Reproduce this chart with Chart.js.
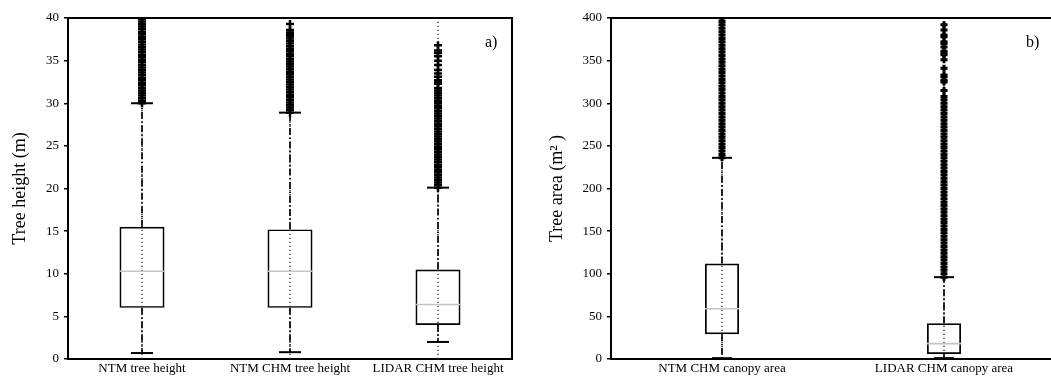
<!DOCTYPE html>
<html><head><meta charset="utf-8">
<script src="https://cdn.jsdelivr.net/npm/chart.js@4"></script>
<style>
html,body{margin:0;padding:0;background:#fff;overflow:hidden;width:1051px;height:376px;position:relative}
#ca{position:absolute;left:0;top:0;width:525px;height:376px}
#cb{position:absolute;left:520px;top:0;width:540px;height:376px}
.tag{position:absolute;font-family:'Liberation Serif','Times New Roman',serif;font-size:16px;line-height:1;color:#000}
</style></head><body>
<canvas id="ca" width="525" height="376"></canvas>
<canvas id="cb" width="540" height="376"></canvas>
<div class="tag" style="left:485px;top:34px">a)</div>
<div class="tag" style="left:1026px;top:34px">b)</div>
<script>
// ---- Panel a) tree height ----
const catsA = ['NTM tree height', 'NTM CHM tree height', 'LIDAR CHM tree height'];
const q1A  = [6.0, 6.0, 4.0];
const medA = [10.3, 10.3, 6.4];
const q3A  = [15.5, 15.2, 10.5];
const loA  = [0.7, 0.8, 2.0];
const hiA  = [30.0, 28.9, 20.1];
const minA = [0, 0, 0];
const maxA = [40, 40, 40];
const outA = [
  [30,30.3,30.6,30.9,31.2,31.5,31.8,32.1,32.4,32.7,33,33.3,33.6,33.9,34.2,34.5,34.8,35.1,35.4,35.7,36,36.3,36.6,36.9,37.2,37.5,37.8,38.1,38.4,38.7,39,39.3,39.6,39.9],
  [28.9,29.2,29.5,29.8,30.1,30.4,30.7,31,31.3,31.6,31.9,32.2,32.5,32.8,33.1,33.4,33.7,34,34.3,34.6,34.9,35.2,35.5,35.8,36.1,36.4,36.7,37,37.3,37.6,37.9,38.1,38.3,38.6,39.3],
  [20.1,20.4,20.7,21,21.3,21.6,21.9,22.2,22.5,22.8,23.1,23.4,23.7,24,24.3,24.6,24.9,25.2,25.5,25.8,26.1,26.4,26.7,27,27.3,27.6,27.9,28.2,28.5,28.8,29.1,29.4,29.7,30,30.3,30.6,30.9,31.2,31.5,31.8,32.3,32.5,32.7,33.1,33.5,33.9,34.5,35,35.5,35.9,36.2,36.8]
];
const ticksA = [0,5,10,15,20,25,30,35,40];

// ---- Panel b) tree area ----
const catsB = ['NTM CHM canopy area', 'LIDAR CHM canopy area'];
const q1B  = [29, 6];
const medB = [59, 18];
const q3B  = [112, 42];
const loB  = [1, 1];
const hiB  = [236, 96];
const minB = [0, 0];
const maxB = [400, 400];
const outB = [
  [236,240,244,248,252,256,260,264,268,272,276,280,284,288,292,296,300,304,308,312,316,320,324,328,332,336,340,344,348,352,356,360,364,368,372,376,380,384,388,392,396,400],
  [96,100,104,108,112,116,120,124,128,132,136,140,144,148,152,156,160,164,168,172,176,180,184,188,192,196,200,204,208,212,216,220,224,228,232,236,240,244,248,252,256,260,264,268,272,276,280,284,288,292,296,300,304,308,315,325,327,331,333,341,351,357,359,361,366,370,372,378,380,386,392]
];
const ticksB = [0,50,100,150,200,250,300,350,400];

const SERIF = "'Liberation Serif','Times New Roman',serif";

const framePlugin = {
  id: 'frame',
  afterDraw(chart) {
    const a = chart.chartArea, ctx = chart.ctx;
    ctx.save();
    ctx.strokeStyle = '#000';
    ctx.lineWidth = 2;
    ctx.beginPath();
    ctx.moveTo(a.left, a.top); ctx.lineTo(a.right, a.top); ctx.lineTo(a.right, a.bottom);
    ctx.stroke();
    ctx.restore();
  }
};

function makeBox(id, cats, q1, med, q3, lo, hi, mn, mx, outs, tickVals, yTitle, st) {
  const range = [], whisk = [], caps = [], meds = [], outPts = [];
  cats.forEach((c, i) => {
    range.push({x: c, y: mn[i]}, {x: c, y: mx[i]}, {x: c, y: null});
    whisk.push({x: c, y: q3[i]}, {x: c, y: hi[i]}, {x: c, y: null},
               {x: c, y: q1[i]}, {x: c, y: lo[i]}, {x: c, y: null});
    caps.push({x: c, y: hi[i]}, {x: c, y: lo[i]});
    meds.push({x: c, y: med[i]});
    outs[i].forEach(v => outPts.push({x: c, y: v}));
  });
  return new Chart(document.getElementById(id), {
    type: 'bar',
    data: {
      labels: cats,
      datasets: [
        {type: 'bar', data: q1.map((v, i) => [v, q3[i]]), backgroundColor: 'rgba(0,0,0,0)',
         borderColor: '#000', borderWidth: 1.7, borderSkipped: false,
         barPercentage: st.bp, categoryPercentage: 1, order: 6},
        {type: 'line', data: range, borderColor: '#333', borderWidth: 1.4, borderDash: [1.2, 2.8],
         pointRadius: 0, spanGaps: false, order: 5},
        {type: 'line', data: meds, showLine: false, pointStyle: 'line', pointRadius: st.medR,
         pointBorderColor: '#c4c4c4', pointBorderWidth: 1.6, order: 4},
        {type: 'line', data: whisk, borderColor: '#111', borderWidth: 1.8, borderDash: [7, 2.5, 1.5, 2.5],
         pointRadius: 0, spanGaps: false, order: 3},
        {type: 'line', data: caps, showLine: false, pointStyle: 'line', pointRadius: st.capR,
         pointBorderColor: '#000', pointBorderWidth: 2, order: 2},
        {type: 'line', data: outPts, showLine: false, pointStyle: 'cross', pointRadius: st.outR,
         pointBorderColor: '#000', pointBorderWidth: st.outW, order: 1}
      ]
    },
    options: {
      responsive: false, animation: false, devicePixelRatio: 1,
      layout: {padding: st.pad, autoPadding: false},
      plugins: {legend: {display: false}, tooltip: {enabled: false}},
      scales: {
        x: {
          type: 'category', offset: true,
          grid: {display: false, drawTicks: false},
          border: {display: true, color: '#000', width: 2},
          ticks: {color: '#000', font: {family: SERIF, size: 13}, padding: 2, maxRotation: 0, autoSkip: false},
          afterFit: s => { s.height = 17; s.paddingLeft = 0; s.paddingRight = 0; s.paddingTop = 0; s.paddingBottom = 0; }
        },
        y: {
          min: tickVals[0], max: tickVals[tickVals.length - 1],
          afterBuildTicks: s => { s.ticks = tickVals.map(v => ({value: v})); },
          grid: {drawOnChartArea: false, drawTicks: true, tickLength: 4, color: '#000', lineWidth: 1.5},
          border: {display: true, color: '#000', width: 2},
          ticks: {color: '#000', font: {family: SERIF, size: 13}, padding: 5},
          title: {display: true, text: yTitle, color: '#000', font: {family: SERIF, size: 18}, padding: {top: 0, bottom: 0}},
          afterFit: s => { s.width = st.yw; s.paddingLeft = 0; s.paddingRight = 0; s.paddingTop = 0; s.paddingBottom = 0; }
        }
      }
    },
    plugins: [framePlugin]
  });
}

makeBox('ca', catsA, q1A, medA, q3A, loA, hiA, minA, maxA, outA, ticksA, 'Tree height (m)',
  {bp: 0.304, medR: 22.5, capR: 11, outR: 4, outW: 2.5, yw: 59, pad: {left: 9, right: 13, top: 18, bottom: 0}});
makeBox('cb', catsB, q1B, medB, q3B, loB, hiB, minB, maxB, outB, ticksB, 'Tree area (m\u00B2 )',
  {bp: 0.153, medR: 17, capR: 10, outR: 3.5, outW: 3, yw: 65, pad: {left: 26, right: 5, top: 18, bottom: 0}});
</script>
</body></html>
